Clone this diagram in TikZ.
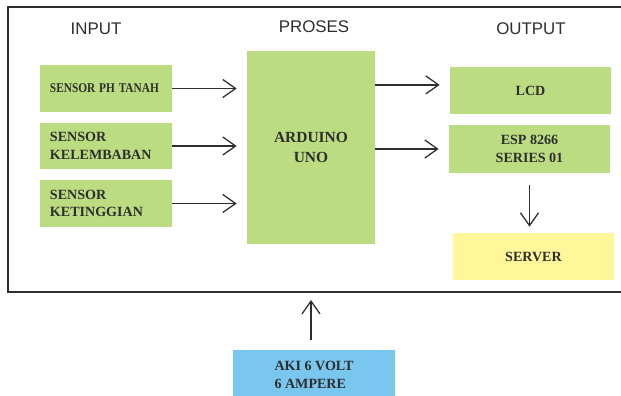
\documentclass[tikz,border=0pt]{standalone}
\usepackage{fontspec}
\setmainfont{Liberation Serif}
\setsansfont{Liberation Sans}
\usetikzlibrary{arrows.meta,positioning}
\definecolor{hijau}{HTML}{BBDC80}
\definecolor{kuning}{HTML}{FFF799}
\definecolor{biru}{HTML}{79C6EF}
\definecolor{gelap}{HTML}{2E2E2E}

\begin{document}
\begin{tikzpicture}[x=0.025cm,y=-0.025cm,
    blok/.style={rectangle, fill=hijau, inner sep=0pt, text=gelap,
      font=\fontsize{10}{12.5}\selectfont\bfseries},
    judul/.style={font=\sffamily\fontsize{12}{14}\selectfont, text=gelap},
    panah/.style={draw=gelap, line width=0.9pt, -{Straight Barb[length=3.2mm, width=4.5mm]}}]
    \def\sw{3.3}
    \def\sh{1.15}
    \def\ow{4.025}
    \def\oh{1.175}
    \useasboundingbox (0,0) rectangle (621,396);

    % bingkai
    \draw[gelap, line width=1.4pt] (621,7) -- (8,7) -- (8,292) -- (621,292);
    \coordinate (bawah) at (311,292);

    \node(in) [judul] at (96,29) {INPUT};
    \node(pr) [judul] at (314,27) {PROSES};
    \node(out) [judul] at (531,29) {OUTPUT};

    \node(ph) [blok, minimum width=\sw cm, minimum height=\sh cm, text width=2.8cm, align=left,
      font=\fontsize{9.5}{12}\selectfont\bfseries] at (106,88.5) {\scalebox{0.85}[1]{SENSOR PH TANAH}};
    \node(lembab) [blok, minimum width=\sw cm, minimum height=\sh cm, text width=2.8cm, align=left] at (106,146) {SENSOR\\KELEMBABAN};
    \node(tinggi) [blok, minimum width=\sw cm, minimum height=\sh cm, text width=2.8cm, align=left] at (106,203.5) {SENSOR\\KETINGGIAN};

    \node(ard) [blok, minimum width=3.2cm, minimum height=4.825cm, align=center,
      font=\fontsize{11}{14}\selectfont\bfseries] at (311,147.5) {ARDUINO\\UNO};

    \node(lcd) [blok, minimum width=\ow cm, minimum height=\oh cm] at (530.5,90.5) {LCD};
    \node(esp) [blok, minimum width=\ow cm, minimum height=\oh cm, align=center] at (529.5,149) {ESP 8266\\ SERIES 01};
    \node(srv) [blok, fill=kuning, minimum width=\ow cm, minimum height=\oh cm] at (533.5,256.5) {SERVER};
    \node(aki) [blok, fill=biru, minimum width=4.05cm, minimum height=1.25cm, align=left] at (314,375) {AKI 6 VOLT\\6 AMPERE};

    \draw[panah, shorten >=0.25cm] (ph.east) -- (ph.east -| ard.west);
    \draw[panah, shorten >=0.25cm] (lembab.east) -- (lembab.east -| ard.west);
    \draw[panah, shorten >=0.25cm] (tinggi.east) -- (tinggi.east -| ard.west);

    \draw[panah, shorten >=0.25cm] ([yshift=0.14cm]ard.east |- lcd.west) -- ([yshift=0.14cm]lcd.west);
    \draw[panah, shorten >=0.25cm] (ard.east |- esp.west) -- (esp.west);
    \draw[panah, shorten <=0.3cm, shorten >=0.15cm] (esp.south) -- (esp.south |- srv.north);
    \draw[panah, shorten <=0.25cm, shorten >=0.2cm] (aki.north -| bawah) -- (bawah);
\end{tikzpicture}
\end{document}
